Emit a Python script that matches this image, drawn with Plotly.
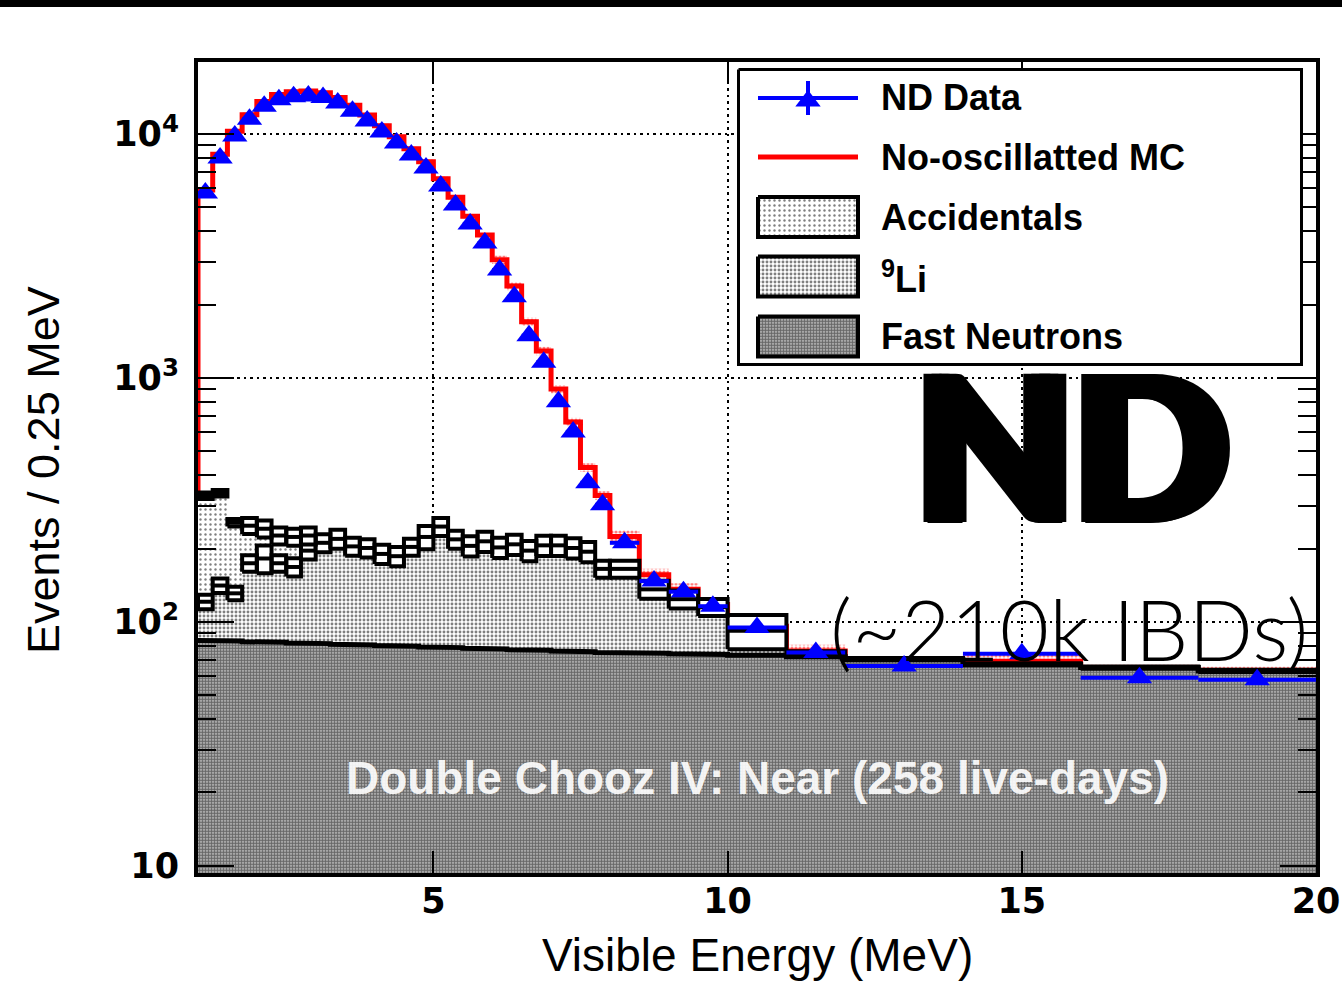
import numpy as np
import plotly.graph_objects as go

# ---------------- data (Events / 0.25 MeV) ----------------
edges = [1.00, 1.25, 1.50, 1.75, 2.00, 2.25, 2.50, 2.75, 3.00, 3.25, 3.50, 3.75, 4.00,
         4.25, 4.50, 4.75, 5.00, 5.25, 5.50, 5.75, 6.00, 6.25, 6.50, 6.75, 7.00, 7.25,
         7.50, 7.75, 8.00, 8.5, 9.0, 9.5, 10.0, 11.0, 12.0, 14.0, 16.0, 18.0, 20.0]

nd_data = [5730, 7970, 9810, 11500, 13000, 13800, 14200, 14300, 14100, 13400, 12400, 11300,
           10200, 9180, 8200, 7260, 6120, 5120, 4280, 3570, 2770, 2150, 1490, 1160, 798, 601,
           372, 302, 211, 147, 133, 116, 95, 75, 66, 74, 59, 58]

mc_noosc = [5900, 8250, 10250, 12000, 13600, 14500, 14900, 15000, 14750, 14100, 13100, 11950,
            10800, 9750, 8700, 7700, 6550, 5500, 4600, 3850, 3050, 2380, 1700, 1290, 900, 660,
            430, 330, 224, 156, 136, 118, 96, 76, 68, 69, 63, 62]

mc_relerr = [0.02, 0.02, 0.02, 0.02, 0.02, 0.02, 0.02, 0.02, 0.02, 0.02, 0.02, 0.02, 0.02,
             0.02, 0.02, 0.02, 0.02, 0.02, 0.02, 0.02, 0.04, 0.04, 0.04, 0.04, 0.04, 0.04,
             0.04, 0.04, 0.06, 0.06, 0.06, 0.06, 0.06, 0.06, 0.06, 0.06, 0.06, 0.06]

fast_neutrons = [84, 84, 83.5, 83, 83, 82.5, 82, 82, 81.5, 81, 81, 80.5, 80, 80, 79.5, 79, 79,
                 78.5, 78, 78, 77.5, 77, 77, 76.5, 76, 76, 75.5, 75, 75, 74.5, 74, 73.5, 73,
                 72, 70, 67, 65, 63]

lithium9 = [37, 57, 47.5, 91, 99, 91.5, 86, 114, 129.5, 138, 123, 120.5, 110, 106, 123.5, 144,
            167, 139.5, 127, 136, 124.5, 131, 119, 129.5, 130, 125, 118.5, 90, 90, 61.5, 50,
            41.5, 19, 3, 0.5, 0, 0, 0]

accidentals = [208, 196, 124, 74, 59, 52, 55, 30, 0, 0, 0, 0, 0, 0, 0, 0, 0, 0, 0, 0, 0, 0, 0,
               0, 0, 0, 0, 0, 0, 0, 0, 0, 0, 0, 0, 0, 0, 0]

bkg_relerr = [0.03, 0.03, 0.035, 0.075, 0.08, 0.08, 0.08, 0.08, 0.085, 0.09, 0.085, 0.085, 0.09,
              0.09, 0.08, 0.11, 0.085, 0.085, 0.095, 0.095, 0.095, 0.095, 0.095, 0.095, 0.095,
              0.095, 0.095, 0.08, 0.08, 0.085, 0.085, 0.08, 0.16, 0.01, 0.01, 0.01, 0.01, 0.01]

mid_relerr = [0.068, 0.068, 0.063, 0.078, 0.13, 0.078, 0.087, 0.08, 0, 0, 0, 0, 0, 0, 0, 0, 0,
              0, 0, 0, 0, 0, 0, 0, 0, 0, 0, 0, 0, 0, 0, 0, 0, 0, 0, 0, 0, 0]

x_ticks = [5, 10, 15, 20]
y_ticks = [10, 100, 1000, 10000]
y_ticktext = ["10", "10<sup>2</sup>", "10<sup>3</sup>", "10<sup>4</sup>"]

# ---------------- derived arrays ----------------
E = np.array(edges, float)
centers = 0.5 * (E[:-1] + E[1:])
halfw = 0.5 * (E[1:] - E[:-1])
FN = np.array(fast_neutrons, float)
MID = FN + np.array(lithium9, float)
TOT = MID + np.array(accidentals, float)
MC = np.array(mc_noosc, float)
FLOOR = 1.0


def steps(vals):
    xs = np.repeat(E, 2)[1:-1]
    ys = np.repeat(np.asarray(vals, float), 2)
    return list(xs), list(ys)


def band(upper, lower):
    xu, yu = steps(upper)
    xl, yl = steps(lower)
    return xu + xl[::-1] + [xu[0]], yu + yl[::-1] + [yu[0]]


def boxes(vals, errs, mask):
    bx, by, mx, my = [], [], [], []
    for i in range(len(vals)):
        if not mask[i]:
            continue
        xl, xr = E[i], E[i + 1]
        lo, hi = vals[i] * (1 - errs[i]), vals[i] * (1 + errs[i])
        bx += [xl, xr, xr, xl, xl, None]
        by += [lo, lo, hi, hi, lo, None]
        mx += [xl, xr, None]
        my += [vals[i], vals[i], None]
    return bx, by, mx, my


PAT_FN = dict(shape=".", fgcolor="black", bgcolor="#d0d0d0", size=3, solidity=0.7)
PAT_LI = dict(shape=".", fgcolor="black", bgcolor="white", size=4, solidity=0.42)
PAT_ACC = dict(shape=".", fgcolor="black", bgcolor="white", size=5, solidity=0.18)
PAT_MC = dict(shape=".", fgcolor="red", bgcolor="white", size=4, solidity=0.5)

fig = go.Figure()

# MC (no oscillation) band and line
bx, by = band(MC * (1 + np.array(mc_relerr)), MC * (1 - np.array(mc_relerr)))
fig.add_trace(go.Scatter(x=bx, y=by, fill="toself", fillpattern=PAT_MC, fillcolor="white",
                         line=dict(width=0), mode="lines", hoverinfo="skip"))
sx, sy = steps(MC)
fig.add_trace(go.Scatter(x=[E[0]] + sx, y=[FLOOR] + sy, mode="lines",
                         line=dict(color="#ff0000", width=5), hoverinfo="skip"))

# stacked backgrounds
fx, fy = steps(FN)
fig.add_trace(go.Scatter(x=[E[0]] + fx + [E[-1], E[0]], y=[FLOOR] + fy + [FLOOR, FLOOR],
                         fill="toself", fillpattern=PAT_FN, fillcolor="#d0d0d0",
                         line=dict(width=0), mode="lines", hoverinfo="skip"))
lx, ly = band(MID, FN)
fig.add_trace(go.Scatter(x=lx, y=ly, fill="toself", fillpattern=PAT_LI, fillcolor="white",
                         line=dict(width=0), mode="lines", hoverinfo="skip"))
ax_, ay_ = band(TOT, MID)
fig.add_trace(go.Scatter(x=ax_, y=ay_, fill="toself", fillpattern=PAT_ACC, fillcolor="white",
                         line=dict(width=0), mode="lines", hoverinfo="skip"))
fig.add_trace(go.Scatter(x=fx, y=fy, mode="lines", line=dict(color="black", width=5),
                         hoverinfo="skip"))

# error boxes
acc_arr = np.array(accidentals, float)
bx, by, mx, my = boxes(MID, mid_relerr, acc_arr > 0)
fig.add_trace(go.Scatter(x=bx, y=by, fill="toself", fillcolor="white", mode="lines",
                         line=dict(color="black", width=4), hoverinfo="skip"))
fig.add_trace(go.Scatter(x=mx, y=my, mode="lines", line=dict(color="black", width=4),
                         hoverinfo="skip"))
bx, by, mx, my = boxes(TOT, bkg_relerr, np.ones(len(TOT), bool))
fig.add_trace(go.Scatter(x=bx, y=by, fill="toself", fillcolor="white", mode="lines",
                         line=dict(color="black", width=4), hoverinfo="skip"))
fig.add_trace(go.Scatter(x=mx, y=my, mode="lines", line=dict(color="black", width=4),
                         hoverinfo="skip"))

# data
fig.add_trace(go.Scatter(x=centers, y=nd_data, mode="markers",
                         marker=dict(symbol="triangle-up", size=22, color="#0000ff"),
                         error_x=dict(type="data", array=halfw, visible=True, thickness=4,
                                      width=0, color="#0000ff"),
                         hoverinfo="skip"))

# ---------------- custom legend (subplot x2/y2 in pixel units) ----------------
LW, LH = 566, 298
leg = dict(xaxis="x2", yaxis="y2", hoverinfo="skip", showlegend=False)
fig.add_trace(go.Scatter(x=[1.5, LW - 1.5, LW - 1.5, 1.5, 1.5], y=[1.5, 1.5, LH - 1.5, LH - 1.5, 1.5],
                         fill="toself", fillcolor="white", mode="lines",
                         line=dict(color="black", width=3), **leg))
fig.add_trace(go.Scatter(x=[21, 121], y=[30, 30], mode="lines",
                         line=dict(color="#0000ff", width=4), **leg))
fig.add_trace(go.Scatter(x=[71, 71], y=[13, 47], mode="lines",
                         line=dict(color="#0000ff", width=4), **leg))
fig.add_trace(go.Scatter(x=[71], y=[33], mode="markers",
                         marker=dict(symbol="triangle-up", size=22, color="#0000ff"), **leg))
fig.add_trace(go.Scatter(x=[21, 121], y=[89, 89], mode="lines",
                         line=dict(color="#ff0000", width=5), **leg))
for yc, pat, bg in [(149, PAT_ACC, "white"), (208.5, PAT_LI, "white"), (268.5, PAT_FN, "#d0d0d0")]:
    fig.add_trace(go.Scatter(x=[21, 121, 121, 21, 21], y=[yc - 20, yc - 20, yc + 20, yc + 20, yc - 20],
                             fill="toself", fillpattern=pat, fillcolor=bg, mode="lines",
                             line=dict(color="black", width=4), **leg))

legend_labels = ["ND Data", "No-oscillatted MC", "Accidentals", "<sup>9</sup>Li", "Fast Neutrons"]
legend_rows = [30, 89, 149, 208.5, 268.5]
annotations = []
for lab, yr in zip(legend_labels, legend_rows):
    annotations.append(dict(x=142, y=yr, xref="x2", yref="y2", text="<b>" + lab + "</b>",
                            showarrow=False, xanchor="left", yanchor="middle",
                            font=dict(family="Liberation Sans", size=36, color="black")))

# ---------------- text ----------------
PL, PT, PW, PH = 198, 62, 1118, 811


def px(xp):
    return (xp - PL) / PW


def py(yp):
    return (PT + PH - yp) / PH


annotations += [
    dict(x=px(1072), y=py(443), xref="paper", yref="paper", text="ND", showarrow=False,
         xanchor="center", yanchor="middle",
         font=dict(family="Lato", size=204, color="black", weight=900,
                   shadow="8px 0 0 #000, -8px 0 0 #000, 4px 1px 0 #000, -4px 1px 0 #000")),
    dict(x=px(1069), y=py(628), xref="paper", yref="paper", text="(~210k IBDs)",
         showarrow=False, xanchor="center", yanchor="middle",
         font=dict(family="Lato", size=85, color="black", weight=300)),
    dict(x=px(757), y=py(778), xref="paper", yref="paper",
         text="<b>Double Chooz IV: Near (258 live-days)</b>", showarrow=False,
         xanchor="center", yanchor="middle",
         font=dict(family="Liberation Sans", size=46, color="rgba(255,255,255,0.92)")),
    dict(x=px(757), y=py(955), xref="paper", yref="paper", text="Visible Energy (MeV)",
         showarrow=False, xanchor="center", yanchor="middle",
         font=dict(family="Liberation Sans", size=46, color="black")),
    dict(x=px(43), y=py(470), xref="paper", yref="paper", text="Events / 0.25 MeV",
         showarrow=False, xanchor="center", yanchor="middle", textangle=-90,
         font=dict(family="Liberation Sans", size=45, color="black")),
]

minor_vals = [m * 10 ** k for k in range(0, 5) for m in range(2, 10)]

fig.update_layout(
    width=1342, height=982,
    margin=dict(l=PL, r=1342 - PL - PW, t=PT, b=982 - PT - PH, autoexpand=False),
    paper_bgcolor="white", plot_bgcolor="white",
    showlegend=False,
    annotations=annotations,
    xaxis=dict(range=[1, 20], tickvals=x_ticks, ticks="inside", ticklen=22, tickwidth=2,
               tickcolor="black", showline=True, linewidth=4, linecolor="black", mirror="ticks",
               showgrid=True, gridcolor="black", gridwidth=2, griddash="2.5px,4px",
               zeroline=False, ticklabelstandoff=-6, automargin=False,
               tickfont=dict(family="DejaVu Sans", size=35, color="black", weight="bold")),
    yaxis=dict(type="log", range=[0.971, 4.295], tickvals=y_ticks, ticktext=y_ticktext,
               ticks="inside", ticklen=36, tickwidth=2, tickcolor="black", showline=True,
               linewidth=4, linecolor="black", mirror="ticks", showgrid=True,
               gridcolor="black", gridwidth=2, griddash="2.5px,4px", zeroline=False,
               ticklabelstandoff=8, automargin=False,
               minor=dict(tickvals=minor_vals, ticks="inside", ticklen=18, tickwidth=2,
                          tickcolor="black", showgrid=False),
               tickfont=dict(family="DejaVu Sans", size=35, color="black", weight="bold")),
    xaxis2=dict(domain=[px(737), px(737) + LW / PW], range=[0, LW], visible=False,
                anchor="y2", fixedrange=True, automargin=False),
    yaxis2=dict(domain=[py(68) - LH / PH, py(68)], range=[LH, 0], visible=False,
                anchor="x2", fixedrange=True, automargin=False),
    shapes=[dict(type="rect", xref="paper", yref="paper", x0=-0.2, x1=1.1,
                 y0=1 + (PT - 7) / PH, y1=1.1, fillcolor="black", line=dict(width=0),
                 layer="above")],
)

fig.write_html("out.html")
